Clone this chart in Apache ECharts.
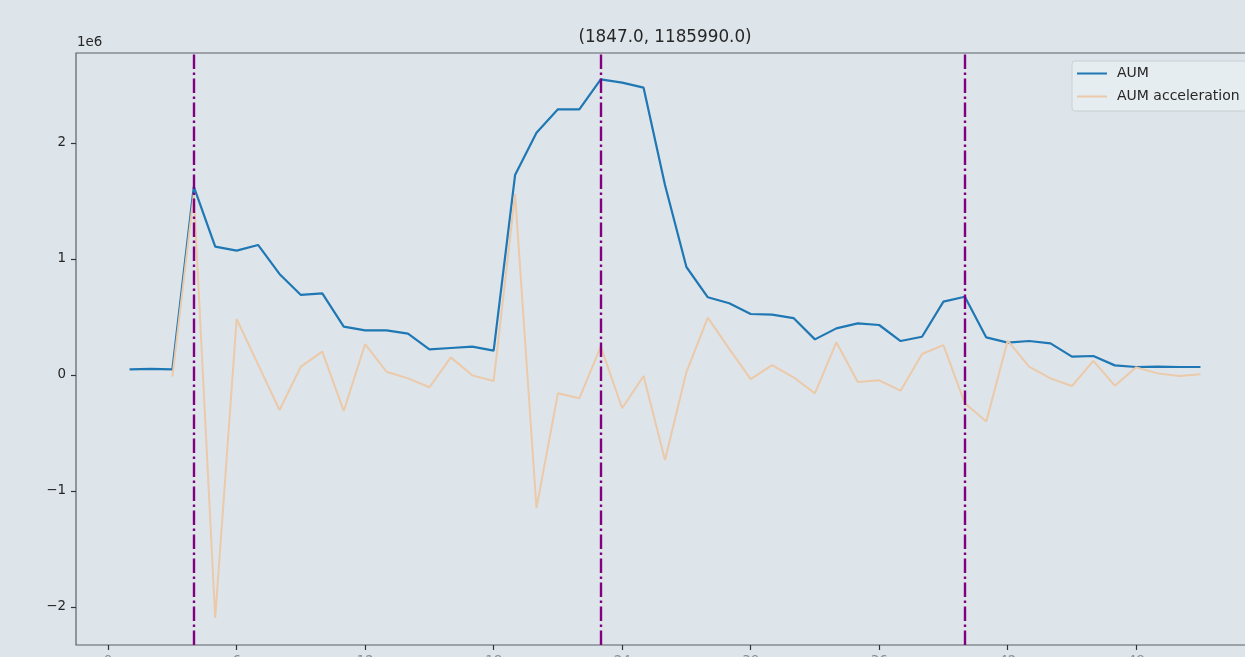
<!DOCTYPE html>
<html>
<head>
<meta charset="utf-8">
<script src="https://cdn.jsdelivr.net/npm/echarts@6/dist/echarts.min.js"></script>
<style>
  html, body { margin: 0; padding: 0; background: #dde5eb; }
  #chart { width: 1245px; height: 657px; }
</style>
</head>
<body>
<div id="chart"></div>
<script>
// Period index for each observation
const periods = [1, 2, 3, 4, 5, 6, 7, 8, 9, 10, 11, 12, 13, 14, 15, 16, 17, 18, 19, 20,
  21, 22, 23, 24, 25, 26, 27, 28, 29, 30, 31, 32, 33, 34, 35, 36, 37, 38, 39, 40,
  41, 42, 43, 44, 45, 46, 47, 48, 49, 50, 51];

// Assets under management
const aum = [49000, 52000, 49000, 1623000, 1106000, 1072000, 1121000, 871000, 690000, 704000,
  417000, 385000, 385000, 356000, 221000, 233000, 244000, 210000, 1724000, 2089000,
  2290000, 2290000, 2549000, 2520000, 2477000, 1638000, 931000, 670000, 618000, 526000,
  520000, 491000, 307000, 402000, 445000, 431000, 293000, 330000, 632000, 675000,
  324000, 279000, 293000, 273000, 158000, 164000, 83000, 69000, 72000, 69000, 69000];

// Acceleration of AUM (undefined for the first two periods)
const aumAcceleration = [null, null, -15000, 1560000, -2095000, 483000, 92000, -302000, 72000, 201000,
  -310000, 267000, 28000, -29000, -106000, 152000, -3000, -52000, 1560000, -1147000,
  -158000, -201000, 244000, -287000, -9000, -733000, 25000, 495000, 225000, -36000,
  85000, -20000, -158000, 282000, -60000, -46000, -135000, 181000, 257000, -244000,
  -400000, 296000, 72000, -29000, -95000, 121000, -92000, 66000, 14000, -9000, 6000];

// Periods flagged with vertical markers
const markerPeriods = [4, 23, 40];

// Axis ticks
const xTicks = [0, 6, 12, 18, 24, 30, 36, 42, 48];
const yTicks = [-2000000, -1000000, 0, 1000000, 2000000];

const titleText = '(1847.0, 1185990.0)';
const offsetText = '1e6';

const FONT = 'DejaVu Sans';
const BG = '#dde5eb';
const SPINE = '#5c6167';
const BLUE = '#1f77b4';
const PEACH = '#ebc9a9';

const chart = echarts.init(document.getElementById('chart'), null, { renderer: 'canvas' });

const pairs = (ys) => periods.map((p, i) => [p, ys[i]]);

chart.setOption({
  backgroundColor: BG,
  animation: false,
  textStyle: { fontFamily: FONT },
  grid: {
    left: 76, top: 53, right: -9, bottom: 12,
    outerBoundsMode: 'none',
    containLabel: false,
    show: true, backgroundColor: BG, borderColor: SPINE, borderWidth: 1.2
  },
  graphic: [
    { type: 'text', x: 665, y: 38, style: { text: titleText, textAlign: 'center', textVerticalAlign: 'middle', fill: '#262626', font: '16.8px "DejaVu Sans"' } },
    { type: 'text', x: 77, y: 43, style: { text: offsetText, textAlign: 'left', textVerticalAlign: 'middle', fill: '#262626', font: '13.4px "DejaVu Sans"' } }
  ],
  legend: {
    left: 1072, top: 61,
    orient: 'vertical',
    padding: [5, 14, 7, 5],
    itemWidth: 30, itemHeight: 2, itemGap: 8,
    backgroundColor: 'rgba(236,241,244,0.6)',
    borderColor: '#c9cfd4', borderWidth: 1, borderRadius: 3,
    textStyle: { fontFamily: FONT, fontSize: 14, lineHeight: 15, color: '#262626', padding: [0, 0, 0, 5] },
    data: [
      { name: 'AUM', icon: 'rect', itemStyle: { color: BLUE } },
      { name: 'AUM acceleration', icon: 'rect', itemStyle: { color: PEACH } }
    ]
  },
  xAxis: {
    type: 'value',
    min: -1.5, max: 53.5,
    splitLine: { show: false },
    axisLine: { show: false, onZero: false },
    axisTick: { show: true, length: 5, lineStyle: { color: '#333', width: 1.2 }, customValues: xTicks },
    axisLabel: { show: true, margin: 10.5, fontSize: 13.4, color: '#8a9096', fontFamily: FONT, customValues: xTicks }
  },
  yAxis: {
    type: 'value',
    min: -2327600, max: 2775900,
    splitLine: { show: false },
    axisLine: { show: false, onZero: false },
    axisTick: { show: true, length: 5, lineStyle: { color: '#333', width: 1.2 }, customValues: yTicks },
    axisLabel: {
      show: true, margin: 10, fontSize: 13.4, color: '#262626', fontFamily: FONT,
      customValues: yTicks,
      formatter: (v) => {
        const n = Math.round(v / 1e6);
        return n < 0 ? '\u2212' + Math.abs(n) : String(n);
      }
    }
  },
  series: [
    {
      name: 'AUM', type: 'line', data: pairs(aum),
      symbol: 'none', z: 3,
      lineStyle: { color: BLUE, width: 2.2 },
      itemStyle: { color: BLUE }
    },
    {
      name: 'AUM acceleration', type: 'line', data: pairs(aumAcceleration),
      symbol: 'none', z: 4, connectNulls: false,
      lineStyle: { color: PEACH, width: 2 },
      itemStyle: { color: PEACH }
    },
    {
      name: 'markers', type: 'line', data: [], z: 5,
      markLine: {
        silent: true, symbol: ['none', 'none'], animation: false,
        label: { show: false },
        lineStyle: { color: '#800080', width: 2.4, type: [14.5, 3.6, 2.3, 3.6] },
        data: markerPeriods.map((p) => ({ xAxis: p }))
      }
    }
  ]
});
</script>
</body>
</html>
